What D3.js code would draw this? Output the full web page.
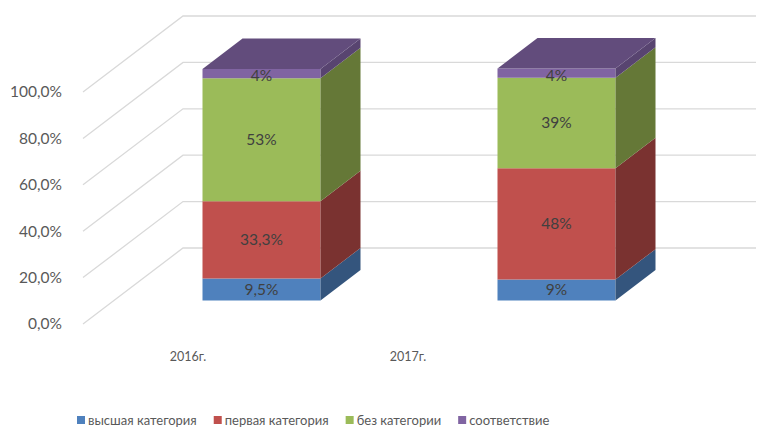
<!DOCTYPE html>
<html>
<head>
<meta charset="utf-8">
<script src="https://cdn.jsdelivr.net/npm/d3@7"></script>
<style>
  body { margin: 0; background: #fff; }
  svg { font-family: Lato, "Open Sans", sans-serif; }
</style>
</head>
<body>
<div id="chart"></div>
<script>
// data
var categories = ["2016г.", "2017г."];
var seriesNames = ["высшая категория", "первая категория", "без категории", "соответствие"];
var vysshaya = [9.5, 9];
var pervaya = [33.3, 48];
var bezKat = [53, 39];
var sootv = [4, 4];
var yTicks = [0, 20, 40, 60, 80, 100];

var frontColors = ["#4F81BD", "#C0504D", "#9BBB59", "#8064A2"];
var sideColors = ["#34557D", "#7A3230", "#657837", "#584470"];
var topColor = "#624C7C";

var width = 764, height = 428;

var svg = d3.select("#chart").append("svg")
    .attr("width", width)
    .attr("height", height);

var ru = d3.formatLocale({decimal: ",", thousands: " ", grouping: [3], currency: ["", ""]});
var tickFmt = function(v) { return ru.format(".1f")(v) + "%"; };
var valFmt = function(v) { return (Number.isInteger(v) ? ru.format("d")(v) : ru.format(".1f")(v)) + "%"; };

// front plane scales
var y = d3.scaleLinear().domain([0, 100]).range([324, 92]);
var x = d3.scaleBand().domain(categories).range([83, 673]).paddingInner(0.6).paddingOuter(0.3);
var xLabel = d3.scalePoint().domain(categories).range([188, 408]);

// depth vector (full depth of the box)
var depthX = 100, depthY = -76;
var d1 = 0.31, d2 = 0.71;
function project(px, v, d) { return [px + depthX * d, y(v) + depthY * d]; }
function poly(pts) { return "M" + pts.map(function(p) { return p.join(","); }).join("L") + "Z"; }

// gridlines: side wall diagonal + back wall horizontal
var grid = svg.append("g").attr("class", "grid");
yTicks.forEach(function(t) {
  var a = project(83, t, 0), b = project(83, t, 1);
  grid.append("path")
      .attr("d", "M" + a.join(",") + "L" + b.join(",") + "L756," + b[1])
      .attr("fill", "none")
      .attr("stroke", "#D9D9D9")
      .attr("stroke-width", 1.3);
});

// y labels
svg.append("g").selectAll("text")
    .data(yTicks)
    .enter().append("text")
    .attr("x", 62)
    .attr("y", function(d) { return y(d); })
    .attr("dy", "0.35em")
    .attr("text-anchor", "end")
    .attr("font-size", 15.5)
    .attr("fill", "#595959")
    .text(tickFmt);

// stacked data
var rows = categories.map(function(c, i) {
  return {cat: c, s0: vysshaya[i], s1: pervaya[i], s2: bezKat[i], s3: sootv[i]};
});
var stack = d3.stack().keys(["s0", "s1", "s2", "s3"]);
var layers = stack(rows);

var bars = svg.append("g").attr("class", "bars");
categories.forEach(function(c, ci) {
  var x0 = x(c), x1 = x(c) + x.bandwidth();
  layers.forEach(function(layer, li) {
    var seg = layer[ci];
    var v0 = seg[0], v1 = seg[1];
    // front
    bars.append("path")
        .attr("d", poly([project(x0, v0, d1), project(x1, v0, d1), project(x1, v1, d1), project(x0, v1, d1)]))
        .attr("fill", frontColors[li]);
    // right side
    bars.append("path")
        .attr("d", poly([project(x1, v0, d1), project(x1, v0, d2), project(x1, v1, d2), project(x1, v1, d1)]))
        .attr("fill", sideColors[li]);
  });
  var top = layers[layers.length - 1][ci][1];
  bars.append("path")
      .attr("d", poly([project(x0, top, d1), project(x1, top, d1), project(x1, top, d2), project(x0, top, d2)]))
      .attr("fill", topColor);
});

// data labels
var labels = svg.append("g").attr("class", "labels");
categories.forEach(function(c, ci) {
  layers.forEach(function(layer, li) {
    var seg = layer[ci];
    var p = project(x(c) + x.bandwidth() / 2, (seg[0] + seg[1]) / 2, d1);
    labels.append("text")
        .attr("x", p[0])
        .attr("y", li == 3 ? p[1] + 2 : p[1])
        .attr("dy", "0.35em")
        .attr("text-anchor", "middle")
        .attr("font-size", 15.5)
        .attr("fill", "#404040")
        .text(valFmt(seg.data[layer.key]));
  });
});

// category labels
svg.append("g").selectAll("text")
    .data(categories)
    .enter().append("text")
    .attr("x", function(d) { return xLabel(d); })
    .attr("y", 357)
    .attr("dy", "0.35em")
    .attr("text-anchor", "middle")
    .attr("font-size", 12.5)
    .attr("fill", "#595959")
    .text(function(d) { return d; });

// legend
var legend = svg.append("g").attr("class", "legend");
var lx = 77;
seriesNames.forEach(function(name, i) {
  legend.append("rect")
      .attr("x", lx)
      .attr("y", 416)
      .attr("width", 8)
      .attr("height", 8)
      .attr("fill", frontColors[i]);
  var t = legend.append("text")
      .attr("x", lx + 11)
      .attr("y", 420)
      .attr("dy", "0.35em")
      .attr("font-size", 13)
      .attr("fill", "#595959")
      .text(name);
  lx += 11 + t.node().getComputedTextLength() + 17;
});
</script>
</body>
</html>
